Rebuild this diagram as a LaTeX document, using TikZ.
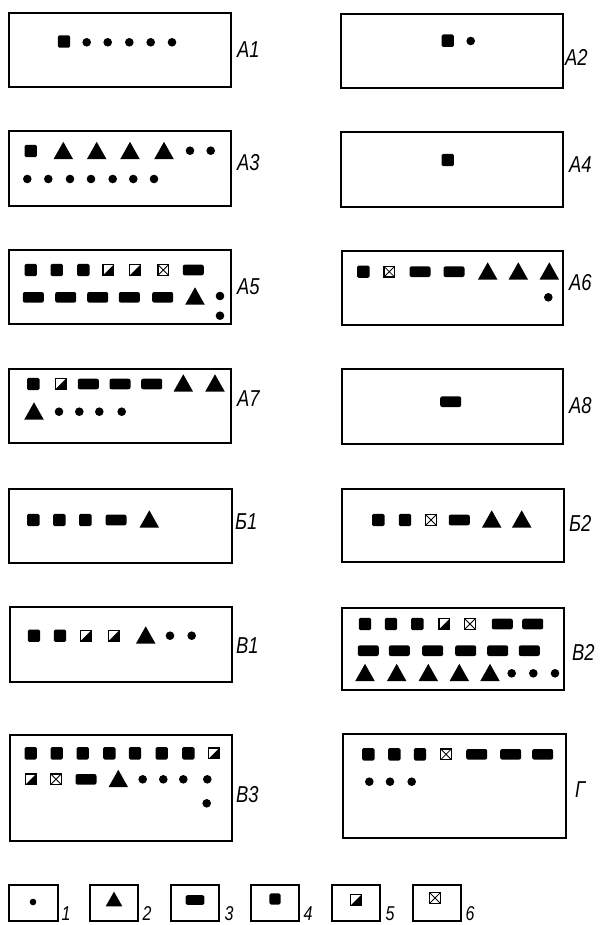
\documentclass[tikz,border=0pt]{standalone}
\usepackage{fontspec}
\usepackage{graphicx}
\setmainfont{Liberation Sans}
\tikzset{
  frame/.style={draw, line width=1.1pt},
  lab/.style={anchor=west, inner sep=0pt, font=\fontsize{23}{23}\selectfont\itshape},
  num/.style={anchor=base, inner sep=0pt, font=\fontsize{20}{20}\selectfont\itshape},
  sq/.pic={\fill[rounded corners=1.5] (-6.2,-6.2) rectangle (6.2,6.2);},
  rc/.pic={\fill[rounded corners=2] (-10.5,-5.3) rectangle (10.5,5.3);},
  tri/.pic={\fill (-9.8,8.7) -- (9.8,8.7) -- (0,-8.7) -- cycle;},
  dt/.pic={\fill (0,0) circle (4.3);},
  half/.pic={\draw[line width=1.2pt] (-5.3,-5.3) rectangle (5.3,5.3); \fill (5.3,-5.3) -- (5.3,5.3) -- (-5.3,5.3) -- cycle;},
  xsq/.pic={\draw[line width=1.2pt] (-5.3,-5.3) rectangle (5.3,5.3); \draw[line width=0.8pt] (-5.3,-5.3) -- (5.3,5.3) (-5.3,5.3) -- (5.3,-5.3);}
}
\newcommand\lbl[1]{\scalebox{0.8}[1]{#1}}
\begin{document}
\begin{tikzpicture}[x=1pt,y=-1pt]
\useasboundingbox (0,0) rectangle (600,925);
% ---------- frames
\draw[frame] (9,13) rectangle (231,87);
\draw[frame] (341,14) rectangle (563,88);
\draw[frame] (9,131) rectangle (231,206);
\draw[frame] (341,132) rectangle (563,207);
\draw[frame] (9,250) rectangle (231,324);
\draw[frame] (342,251) rectangle (563,325);
\draw[frame] (9,369) rectangle (231,443);
\draw[frame] (342,369) rectangle (563,444);
\draw[frame] (9,489) rectangle (232,563);
\draw[frame] (342,489) rectangle (564,562);
\draw[frame] (10,607) rectangle (232,682);
\draw[frame] (342,608) rectangle (564,690);
\draw[frame] (10,735) rectangle (232,841);
\draw[frame] (343,734) rectangle (566,838);
% ---------- labels
\node[lab] (lA1) at (237,50) {\lbl{A1}};
\node[lab] (lA2) at (565,57) {\lbl{A2}};
\node[lab] (lA3) at (237,163) {\lbl{A3}};
\node[lab] (lA4) at (569,165) {\lbl{A4}};
\node[lab] (lA5) at (237,287) {\lbl{A5}};
\node[lab] (lA6) at (569,283) {\lbl{A6}};
\node[lab] (lA7) at (237,399) {\lbl{A7}};
\node[lab] (lA8) at (569,406) {\lbl{A8}};
\node[lab] (lB1) at (235,522) {\lbl{Б1}};
\node[lab] (lB2) at (569,523) {\lbl{Б2}};
\node[lab] (lV1) at (236,646) {\lbl{В1}};
\node[lab] (lV2) at (572,652) {\lbl{В2}};
\node[lab] (lV3) at (236,795) {\lbl{В3}};
\node[lab] (lG) at (575,790) {\lbl{Г}};
% ---------- A1
\pic at (64,41.5) {sq};
\foreach \x in {86.7,107.7,129.3,150.7,172} \pic at (\x,42.3) {dt};
% ---------- A2
\pic at (447.7,40.7) {sq};
\pic at (470.7,41) {dt};
% ---------- A3
\pic at (30.7,151) {sq};
\foreach \x in {63.3,96.7,130,164} \pic at (\x,150.5) {tri};
\foreach \x in {190,210.7} \pic at (\x,150.7) {dt};
\foreach \x in {27.3,48.3,70,91,112.7,133.3,154} \pic at (\x,179) {dt};
% ---------- A4
\pic at (447.7,160) {sq};
% ---------- A5
\foreach \x in {30.7,56.7,83.3} \pic at (\x,270) {sq};
\foreach \x in {108.3,135} \pic at (\x,270) {half};
\pic at (163.3,270) {xsq};
\pic at (193.3,270) {rc};
\foreach \x in {33.3,65.7,97.7,129.3,162.7} \pic at (\x,297.3) {rc};
\pic at (195,296) {tri};
\pic at (220,296) {dt};
\pic at (220,315.7) {dt};
% ---------- A6
\pic at (363.3,271.7) {sq};
\pic at (389.3,271.7) {xsq};
\foreach \x in {420,454} \pic at (\x,271.7) {rc};
\foreach \x in {487.7,518.3,549.3} \pic at (\x,271) {tri};
\pic at (548.3,297.3) {dt};
% ---------- A7
\pic at (33.3,384) {sq};
\pic at (60.7,384) {half};
\foreach \x in {88.3,120,151.7} \pic at (\x,384) {rc};
\foreach \x in {183.3,215} \pic at (\x,383) {tri};
\pic at (34,411) {tri};
\foreach \x in {59,79.3,99.3,121.7} \pic at (\x,411.7) {dt};
% ---------- A8
\pic at (450.7,401.7) {rc};
% ---------- B1
\foreach \x in {33.3,59.3,85.3} \pic at (\x,520) {sq};
\pic at (116,520) {rc};
\pic at (149.3,519) {tri};
% ---------- B2
\foreach \x in {378.3,405} \pic at (\x,520) {sq};
\pic at (431,520) {xsq};
\pic at (459.3,520) {rc};
\foreach \x in {491.7,521.7} \pic at (\x,519) {tri};
% ---------- V1
\foreach \x in {34,60} \pic at (\x,635.7) {sq};
\foreach \x in {86,114} \pic at (\x,635.7) {half};
\pic at (145.7,635) {tri};
\foreach \x in {170,191.7} \pic at (\x,635.7) {dt};
% ---------- V2
\foreach \x in {365,391,417.3} \pic at (\x,624) {sq};
\pic at (444.3,624) {half};
\pic at (470,624) {xsq};
\foreach \x in {502.3,532.7} \pic at (\x,624) {rc};
\foreach \x in {368.3,399.3,432.7,465.7,497.7,529.3} \pic at (\x,650.7) {rc};
\foreach \x in {365,396.7,428.3,459.3,490} \pic at (\x,672.5) {tri};
\foreach \x in {511.7,533.3,555} \pic at (\x,673.3) {dt};
% ---------- V3
\foreach \x in {30.7,56.7,82.7,109.3,135,161.7,188.3} \pic at (\x,753.3) {sq};
\pic at (214,753.3) {half};
\pic at (30.7,779.3) {half};
\pic at (56,779.3) {xsq};
\pic at (86,779.3) {rc};
\pic at (118.3,778.5) {tri};
\foreach \x in {142.7,163.3,183.3,207.3} \pic at (\x,779.3) {dt};
\pic at (206.7,803.3) {dt};
% ---------- G
\foreach \x in {368.3,394.3,420} \pic at (\x,754.3) {sq};
\pic at (446,754.3) {xsq};
\foreach \x in {476.7,510.7,542.7} \pic at (\x,754.3) {rc};
\foreach \x in {369.3,390,411.7} \pic at (\x,781.7) {dt};
% ---------- legend
\draw[frame] (9,885) rectangle (58,921);
\draw[frame] (90,885) rectangle (138,921);
\draw[frame] (171,885) rectangle (219,921);
\draw[frame] (251,885) rectangle (299,921);
\draw[frame] (332,885) rectangle (380,921);
\draw[frame] (413,885) rectangle (461,921);
\fill (33,902) circle (3.3);
\pic[scale=0.85] at (114,899) {tri};
\pic[scale=0.9] at (195,900) {rc};
\pic[scale=0.9] at (275,899) {sq};
\pic at (356,900) {half};
\pic at (435,898) {xsq};
\node[num] (n1) at (66,920) {\lbl{1}};
\node[num] (n2) at (147,920) {\lbl{2}};
\node[num] (n3) at (229,920) {\lbl{3}};
\node[num] (n4) at (308,920) {\lbl{4}};
\node[num] (n5) at (390,920) {\lbl{5}};
\node[num] (n6) at (470,920) {\lbl{6}};
\end{tikzpicture}
\end{document}
